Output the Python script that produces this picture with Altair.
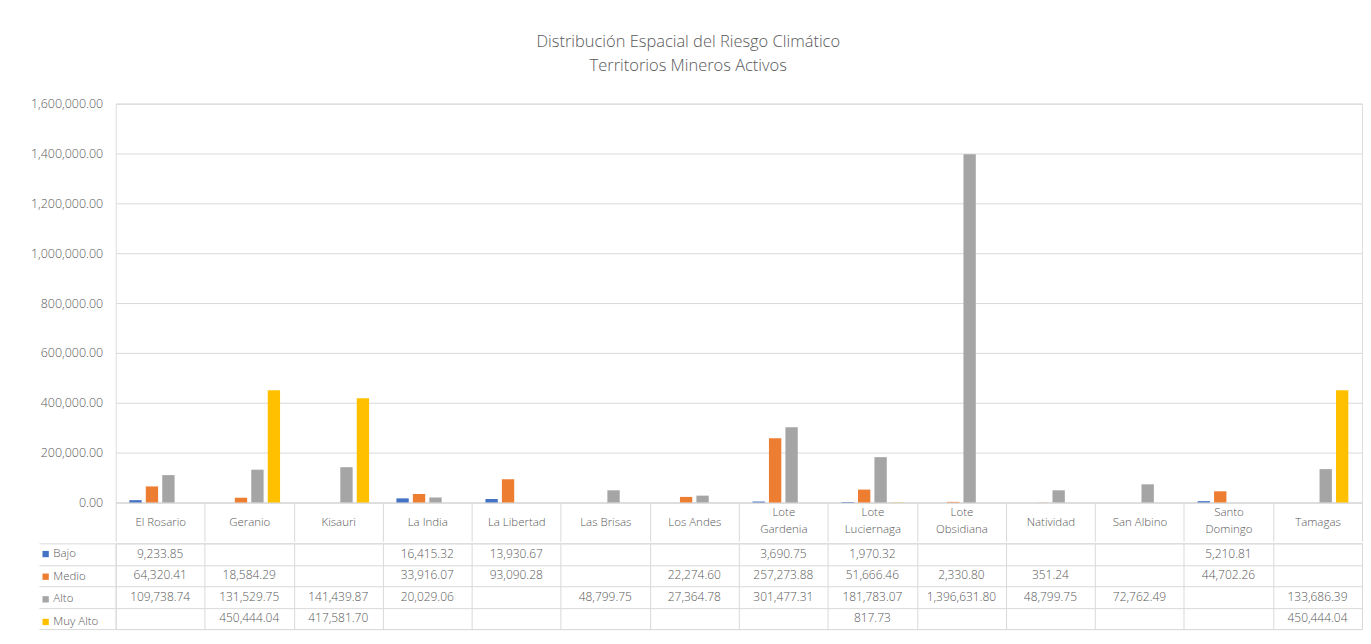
import altair as alt
import pandas as pd

categories = ["El Rosario", "Geranio", "Kisauri", "La India", "La Libertad", "Las Brisas",
              "Los Andes", "Lote Gardenia", "Lote Luciernaga", "Lote Obsidiana", "Natividad",
              "San Albino", "Santo Domingo", "Tamagas"]
wrapped_labels = ["Lote Gardenia", "Lote Luciernaga", "Lote Obsidiana", "Santo Domingo"]
series = ["Bajo", "Medio", "Alto", "Muy Alto"]
colors = ["#4472C4", "#ED7D31", "#A5A5A5", "#FFC000"]

bajo = [9233.85, None, None, 16415.32, 13930.67, None, None, 3690.75, 1970.32, None, None, None, 5210.81, None]
medio = [64320.41, 18584.29, None, 33916.07, 93090.28, None, 22274.60, 257273.88, 51666.46, 2330.80, 351.24, None, 44702.26, None]
alto = [109738.74, 131529.75, 141439.87, 20029.06, None, 48799.75, 27364.78, 301477.31, 181783.07, 1396631.8, 48799.75, 72762.49, None, 133686.39]
muy_alto = [None, 450444.04, 417581.70, None, None, None, None, None, 817.73, None, None, None, None, 450444.04]

y_ticks = [0, 200000, 400000, 600000, 800000, 1000000, 1200000, 1400000, 1600000]

rows = []
for name, vals in zip(series, [bajo, medio, alto, muy_alto]):
    for cat, v in zip(categories, vals):
        if v is not None:
            rows.append({"categoria": cat, "serie": name, "valor": v})
df = pd.DataFrame(rows)

FONT = "Open Sans"
GRID = "#D9D9D9"
TXT = "#595959"
W = 1250
HEADER_H = 39

wrap_list = "[" + ",".join("'" + s + "'" for s in wrapped_labels) + "]"
wrap_test = f"indexof({wrap_list}, datum.value) >= 0"
label_expr = f"{wrap_test} ? split(datum.value, ' ') : datum.value"

x_cat = alt.Scale(domain=categories, paddingInner=0, paddingOuter=0)

bars = alt.Chart(df).mark_bar().encode(
    x=alt.X("categoria:N", sort=categories, scale=x_cat,
            axis=alt.Axis(orient="bottom", title=None, domain=True, domainColor=GRID,
                          ticks=True, tickBand="extent", tickSize=HEADER_H, tickColor=GRID,
                          labelExpr=label_expr, labelAngle=0, labelBaseline="middle",
                          labelPadding={"condition": {"test": wrap_test, "value": -29},
                                        "value": -18.5},
                          labelFontSize=11.5, labelFontWeight=300,
                          labelColor=TXT, labelLineHeight=17, grid=False)),
    xOffset=alt.XOffset("serie:N",
                        scale=alt.Scale(domain=series, paddingInner=0.25, paddingOuter=0.83)),
    y=alt.Y("valor:Q", scale=alt.Scale(domain=[0, 1600000]),
            axis=alt.Axis(values=y_ticks, format=",.2f", grid=True, gridColor=GRID,
                          domain=False, ticks=False, labelPadding=13, labelColor=TXT,
                          labelFontSize=12.5, labelFontWeight=300, title=None,
                          minExtent=102, maxExtent=102)),
    color=alt.Color("serie:N", scale=alt.Scale(domain=series, range=colors),
                    legend=alt.Legend(orient="none", legendX=-76, legendY=446, title=None,
                                      symbolType="square", symbolSize=40, symbolStrokeWidth=0,
                                      labelFontSize=11.5, labelFontWeight=300, labelColor=TXT,
                                      rowPadding=9.7, labelOffset=2, padding=0)),
).properties(width=W, height=400)

table = alt.Chart(df).mark_text(fontSize=12, fontWeight=300, color=TXT, baseline="middle").encode(
    x=alt.X("categoria:N", sort=categories, scale=x_cat,
            axis=alt.Axis(grid=True, tickBand="extent", labels=False, ticks=False, domain=False,
                          title=None, gridColor=GRID, minExtent=0, maxExtent=0)),
    y=alt.Y("serie:N", sort=series,
            scale=alt.Scale(domain=series, paddingInner=0, paddingOuter=0),
            axis=alt.Axis(grid=True, tickBand="extent", labels=False, ticks=True, tickSize=77,
                          tickColor=GRID, domain=False, title=None, gridColor=GRID,
                          minExtent=102, maxExtent=102)),
    text=alt.Text("valor:Q", format=",.2f"),
).properties(width=W, height=86)

chart = alt.vconcat(bars, table, spacing=0).resolve_scale(
    x="independent", y="independent"
).properties(
    title=alt.TitleParams(
        text=["Distribución Espacial del Riesgo Climático", "Territorios Mineros Activos"],
        fontSize=16.5, font=FONT, color=TXT, fontWeight=300, lineHeight=24,
        anchor="middle", offset=23),
    padding={"left": 5, "top": 25, "right": 0, "bottom": 0},
).configure_view(stroke=None).configure(font=FONT)

chart.save("out.html", embed_options={"renderer": "svg", "actions": False})
